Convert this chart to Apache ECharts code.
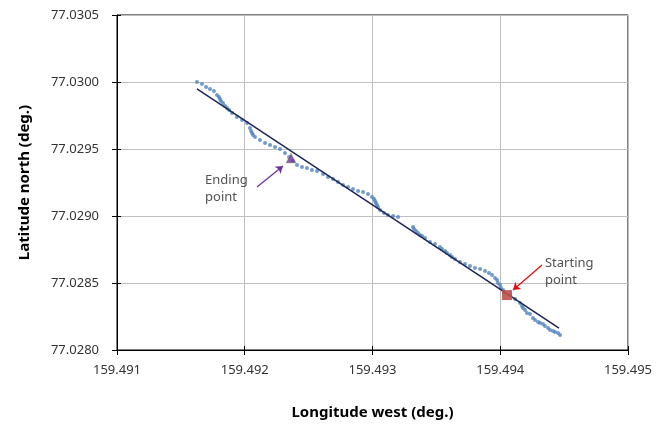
<!DOCTYPE html>
<html>
<head>
<meta charset="utf-8">
<script src="https://cdn.jsdelivr.net/npm/echarts@6/dist/echarts.min.js"></script>
<style>
  html, body { margin: 0; padding: 0; background: #fff; }
  #chart { width: 668px; height: 425px; }
</style>
</head>
<body>
<div id="chart"></div>
<script>
// GPS track (longitude west, latitude north), in recorded order
const trackLon = [
  159.491626, 159.491665, 159.491697, 159.491728, 159.491759, 159.491783, 159.491798, 159.491806,
  159.491814, 159.491830, 159.491845, 159.491861, 159.491877, 159.491900, 159.491939, 159.491979,
  159.492018, 159.492041, 159.492049, 159.492057, 159.492065, 159.492080,
  159.492119, 159.492159, 159.492198, 159.492237, 159.492276, 159.492315, 159.492346, 159.492378,
  159.492409, 159.492448, 159.492487, 159.492526, 159.492566, 159.492613, 159.492652, 159.492691,
  159.492730, 159.492769, 159.492808, 159.492847, 159.492887, 159.492926, 159.492965, 159.492996,
  159.493012, 159.493020, 159.493027, 159.493035, 159.493043, 159.493059, 159.493090, 159.493121,
  159.493161, 159.493200,
  159.493317, 159.493325, 159.493341, 159.493356, 159.493372, 159.493388, 159.493411, 159.493450,
  159.493489, 159.493528, 159.493544, 159.493568, 159.493583, 159.493607, 159.493622, 159.493646,
  159.493685, 159.493724, 159.493763, 159.493802, 159.493842, 159.493881, 159.493912, 159.493936,
  159.493959, 159.493975, 159.493982, 159.493998, 159.494006, 159.494022, 159.494029, 159.494076,
  159.494116, 159.494155, 159.494170, 159.494178, 159.494194, 159.494209, 159.494233, 159.494256,
  159.494272, 159.494296, 159.494311, 159.494335, 159.494350, 159.494374, 159.494390, 159.494413,
  159.494429, 159.494452, 159.494468
];
const trackLat = [
  77.030000, 77.029985, 77.029963, 77.029948, 77.029933, 77.029903, 77.029888, 77.029873,
  77.029858, 77.029843, 77.029821, 77.029806, 77.029791, 77.029769, 77.029739, 77.029716,
  77.029694, 77.029657, 77.029634, 77.029619, 77.029604, 77.029590,
  77.029567, 77.029545, 77.029530, 77.029515, 77.029500, 77.029470, 77.029440, 77.029410,
  77.029381, 77.029366, 77.029358, 77.029343, 77.029336, 77.029313, 77.029291, 77.029276,
  77.029254, 77.029231, 77.029216, 77.029201, 77.029187, 77.029179, 77.029164, 77.029142,
  77.029127, 77.029112, 77.029097, 77.029082, 77.029067, 77.029045, 77.029022, 77.029007,
  77.029000, 77.028992,
  77.028918, 77.028903, 77.028888, 77.028873, 77.028858, 77.028851, 77.028836, 77.028806,
  77.028791, 77.028769, 77.028754, 77.028739, 77.028724, 77.028709, 77.028694, 77.028679,
  77.028657, 77.028642, 77.028627, 77.028612, 77.028604, 77.028589, 77.028575, 77.028560,
  77.028537, 77.028522, 77.028500, 77.028485, 77.028463, 77.028448, 77.028433, 77.028410,
  77.028381, 77.028351, 77.028328, 77.028313, 77.028298, 77.028276, 77.028269, 77.028239,
  77.028224, 77.028209, 77.028201, 77.028194, 77.028179, 77.028164, 77.028149, 77.028142,
  77.028134, 77.028127, 77.028112
];

// Fitted straight course
const fitLon = [159.491626, 159.494460];
const fitLat = [77.029948, 77.028164];

// Start / end of the run
const startPoint = [159.494053, 77.028410];
const endPoint = [159.492362, 77.029433];

// Callouts: text anchor and arrow (from -> to)
const endLabelPos = [159.491689, 77.029201];
const endArrow = [[159.492096, 77.029216], [159.492299, 77.029373]];
const startLabelPos = [159.494350, 77.028582];
const startArrow = [[159.494327, 77.028634], [159.494100, 77.028448]];

// Axis settings
const lonMin = 159.491, lonMax = 159.495, lonStep = 0.001;
const latMin = 77.0280, latMax = 77.0305, latStep = 0.0005;

const FONT = 'Noto Sans';
const trackData = trackLon.map((x, i) => [x, trackLat[i]]);
const fitData = fitLon.map((x, i) => [x, fitLat[i]]);

const chart = echarts.init(document.getElementById('chart'), null, { renderer: 'canvas' });

const baseX = {
  type: 'value', min: lonMin, max: lonMax, interval: lonStep, position: 'bottom'
};
const baseY = {
  type: 'value', min: latMin, max: latMax, interval: latStep, position: 'left'
};

chart.setOption({
  animation: false,
  backgroundColor: '#ffffff',
  grid: {
    left: 117, right: 40, top: 15, bottom: 75,
    show: true, borderColor: '#000000', borderWidth: 1, backgroundColor: 'transparent'
  },
  xAxis: [
    Object.assign({}, baseX, {
      name: 'Longitude west (deg.)',
      nameLocation: 'middle',
      nameGap: 55,
      nameTextStyle: { fontFamily: FONT, fontSize: 15, fontWeight: 'bold', color: '#000' },
      axisLine: { show: true, lineStyle: { color: '#000', width: 1 } },
      axisTick: { show: true, length: 5, lineStyle: { color: '#000' } },
      axisLabel: {
        fontFamily: FONT, fontSize: 13, color: '#333', margin: 14,
        formatter: v => v.toFixed(3)
      },
      splitLine: { show: true, lineStyle: { color: '#bfbfbf', width: 1 } }
    }),
    Object.assign({}, baseX, {
      axisLine: { show: false },
      axisTick: { show: true, inside: true, length: 4, lineStyle: { color: '#000' } },
      axisLabel: { show: false },
      splitLine: { show: false }
    })
  ],
  yAxis: [
    Object.assign({}, baseY, {
      name: 'Latitude north (deg.)',
      nameLocation: 'middle',
      nameGap: 85,
      nameRotate: 90,
      nameTextStyle: { fontFamily: FONT, fontSize: 15, fontWeight: 'bold', color: '#000' },
      axisLine: { show: true, lineStyle: { color: '#000', width: 1 } },
      axisTick: { show: true, length: 5, lineStyle: { color: '#000' } },
      axisLabel: {
        fontFamily: FONT, fontSize: 13, color: '#333', margin: 18,
        formatter: v => v.toFixed(4)
      },
      splitLine: { show: true, lineStyle: { color: '#bfbfbf', width: 1 } }
    }),
    Object.assign({}, baseY, {
      axisLine: { show: false },
      axisTick: { show: true, inside: true, length: 4, lineStyle: { color: '#000' } },
      axisLabel: { show: false },
      splitLine: { show: false }
    })
  ],
  series: [
    {
      name: 'track', type: 'scatter', data: trackData,
      symbol: 'circle', symbolSize: 4,
      itemStyle: { color: '#4f81bd' }, z: 3
    },
    {
      name: 'fit', type: 'line', data: fitData,
      showSymbol: false, symbol: 'none',
      lineStyle: { color: '#1b2556', width: 1.5 }, z: 4
    },
    {
      name: 'start', type: 'scatter', data: [startPoint],
      symbol: 'rect', symbolSize: 10,
      itemStyle: { color: '#c0504d', opacity: 0.9 }, z: 5
    },
    {
      name: 'end', type: 'scatter', data: [endPoint],
      symbol: 'triangle', symbolSize: 10,
      itemStyle: { color: '#7030a0', borderColor: '#9bbb59', borderWidth: 0.6 }, z: 5
    },
    {
      name: 'arrows', type: 'lines', coordinateSystem: 'cartesian2d',
      symbol: ['none', 'arrow'], symbolSize: 7,
      data: [
        { coords: endArrow, lineStyle: { color: '#7030a0', width: 1.3, opacity: 1 } },
        { coords: startArrow, lineStyle: { color: '#e01010', width: 1.3, opacity: 1 } }
      ],
      lineStyle: { opacity: 1 },
      z: 6
    },
    {
      name: 'callouts', type: 'scatter', symbolSize: 0, silent: true,
      data: [
        { value: endLabelPos, label: { formatter: 'Ending\npoint' } },
        { value: startLabelPos, label: { formatter: 'Starting\npoint' } }
      ],
      label: {
        show: true, position: 'right', distance: 0,
        fontFamily: FONT, fontSize: 13, lineHeight: 17, color: '#262626', align: 'left'
      },
      z: 7
    }
  ]
});
</script>
</body>
</html>
